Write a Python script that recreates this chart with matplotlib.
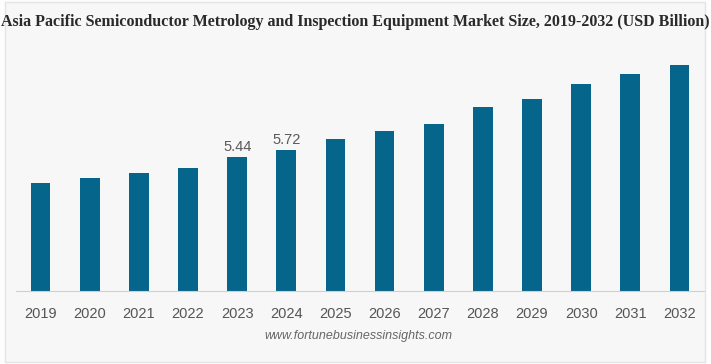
import matplotlib
matplotlib.use("Agg")
import matplotlib.pyplot as plt
from matplotlib.patches import Rectangle

years = ["2019", "2020", "2021", "2022", "2023", "2024", "2025",
         "2026", "2027", "2028", "2029", "2030", "2031", "2032"]
values = [4.41, 4.60, 4.80, 5.01, 5.44, 5.72, 6.20,
          6.51, 6.80, 7.49, 7.81, 8.40, 8.81, 9.20]
labeled = {"2023": "5.44", "2024": "5.72"}

title = "Asia Pacific Semiconductor Metrology and Inspection Equipment Market Size, 2019-2032 (USD Billion)"
source = "www.fortunebusinessinsights.com"

W, H = 711, 364
fig = plt.figure(figsize=(W / 100, H / 100), dpi=100)
bg = "#f7f7f7"
fig.patch.set_facecolor("#fdfdfd")
border = Rectangle((5 / W, 2 / H), 700 / W, 360 / H, transform=fig.transFigure,
                   facecolor=bg, edgecolor="#e4e4e4", linewidth=1.0, zorder=-5)
fig.patches.append(border)

left, right = 16 / W, 704 / W
bottom = (H - 291.3) / H
top = (H - 40) / H
ax = fig.add_axes([left, bottom, right - left, top - bottom])
ax.set_facecolor("none")
ax.set_zorder(1)

x = list(range(len(years)))
bars = ax.bar(x, values, width=0.4, color="#06658b", zorder=2)
ax.set_xlim(-0.5, len(years) - 0.5)
ax.set_ylim(0, (291.3 - 40) * 0.0406)

for xi, y, v in zip(x, years, values):
    if y in labeled:
        ax.text(xi, v + 0.12, labeled[y], ha="center", va="bottom",
                fontsize=10.5, color="#5a5a5a", family="Liberation Sans")

ax.set_xticks(x)
ax.set_xticklabels(years, fontsize=10.5, color="#555555", family="Liberation Sans")
ax.tick_params(axis="x", length=0, pad=11)
ax.set_yticks([])
for s in ["top", "left", "right"]:
    ax.spines[s].set_visible(False)
ax.spines["bottom"].set_color("#d0d0d0")
ax.spines["bottom"].set_linewidth(0.8)

fig.text(355.5 / W, 1 - 22 / H, title, ha="center", va="center",
         fontsize=11.5, fontweight="bold", family="Liberation Serif", color="#2a2a2a")
fig.text(358 / W, 1 - 336 / H, source, ha="center", va="center",
         fontsize=9, style="italic", color="#666666", family="Liberation Sans")

fig.savefig("out.png", dpi=100, facecolor=fig.get_facecolor())
